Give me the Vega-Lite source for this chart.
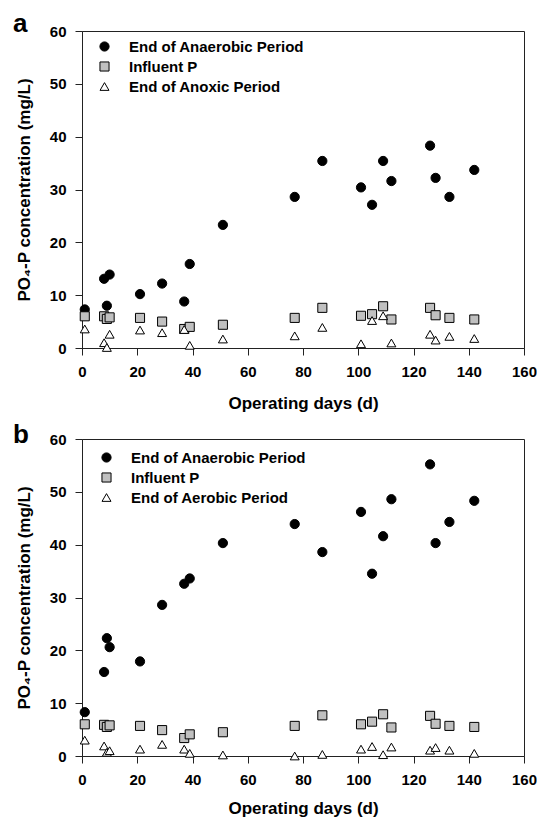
{
  "$schema": "https://vega.github.io/schema/vega-lite/v6.json",
  "padding": {"left": 12, "top": 10, "right": 5, "bottom": 0},
  "background": "white",
  "config": {
    "font": "Liberation Sans",
    "view": {"stroke": "#222", "strokeWidth": 1},
    "axis": {
      "grid": false,
      "domainColor": "#222",
      "tickColor": "#222",
      "tickSize": 7,
      "labelFont": "Liberation Sans",
      "labelFontSize": 15,
      "labelFontWeight": "bold",
      "labelColor": "black",
      "labelFlush": false,
      "titleFont": "Liberation Sans",
      "titleFontSize": 17,
      "titleFontWeight": "bold",
      "titleColor": "black"
    },
    "axisX": {"labelPadding": 9, "titlePadding": 16},
    "axisY": {"labelPadding": 9, "titlePadding": 16},
    "legend": {
      "orient": "none",
      "title": null,
      "labelFont": "Liberation Sans",
      "labelFontSize": 15,
      "labelFontWeight": "bold",
      "labelColor": "black",
      "labelLimit": 400,
      "labelOffset": 17,
      "rowPadding": 4,
      "padding": 0,
      "symbolStrokeColor": "black",
      "symbolStrokeWidth": 1
    },
    "title": {"font": "Liberation Sans", "fontSize": 26, "fontWeight": "bold", "color": "black", "anchor": "start", "frame": "group"}
  },
  "datasets": {
    "pts": [
      {"panel": "a", "series": "End of Anaerobic Period", "day": 1, "p": 7.3},
      {"panel": "a", "series": "End of Anaerobic Period", "day": 8, "p": 13.1},
      {"panel": "a", "series": "End of Anaerobic Period", "day": 9, "p": 8.0},
      {"panel": "a", "series": "End of Anaerobic Period", "day": 10, "p": 13.9},
      {"panel": "a", "series": "End of Anaerobic Period", "day": 21, "p": 10.2},
      {"panel": "a", "series": "End of Anaerobic Period", "day": 29, "p": 12.2},
      {"panel": "a", "series": "End of Anaerobic Period", "day": 37, "p": 8.8},
      {"panel": "a", "series": "End of Anaerobic Period", "day": 39, "p": 15.9},
      {"panel": "a", "series": "End of Anaerobic Period", "day": 51, "p": 23.3},
      {"panel": "a", "series": "End of Anaerobic Period", "day": 77, "p": 28.6},
      {"panel": "a", "series": "End of Anaerobic Period", "day": 87, "p": 35.4},
      {"panel": "a", "series": "End of Anaerobic Period", "day": 101, "p": 30.4},
      {"panel": "a", "series": "End of Anaerobic Period", "day": 105, "p": 27.1},
      {"panel": "a", "series": "End of Anaerobic Period", "day": 109, "p": 35.4},
      {"panel": "a", "series": "End of Anaerobic Period", "day": 112, "p": 31.6},
      {"panel": "a", "series": "End of Anaerobic Period", "day": 126, "p": 38.3},
      {"panel": "a", "series": "End of Anaerobic Period", "day": 128, "p": 32.2},
      {"panel": "a", "series": "End of Anaerobic Period", "day": 133, "p": 28.6},
      {"panel": "a", "series": "End of Anaerobic Period", "day": 142, "p": 33.7},
      {"panel": "a", "series": "Influent P", "day": 1, "p": 6.0},
      {"panel": "a", "series": "Influent P", "day": 8, "p": 6.0},
      {"panel": "a", "series": "Influent P", "day": 9, "p": 5.5},
      {"panel": "a", "series": "Influent P", "day": 10, "p": 5.8},
      {"panel": "a", "series": "Influent P", "day": 21, "p": 5.7},
      {"panel": "a", "series": "Influent P", "day": 29, "p": 5.0},
      {"panel": "a", "series": "Influent P", "day": 37, "p": 3.6},
      {"panel": "a", "series": "Influent P", "day": 39, "p": 4.0},
      {"panel": "a", "series": "Influent P", "day": 51, "p": 4.4},
      {"panel": "a", "series": "Influent P", "day": 77, "p": 5.7},
      {"panel": "a", "series": "Influent P", "day": 87, "p": 7.6},
      {"panel": "a", "series": "Influent P", "day": 101, "p": 6.1},
      {"panel": "a", "series": "Influent P", "day": 105, "p": 6.4},
      {"panel": "a", "series": "Influent P", "day": 109, "p": 7.9},
      {"panel": "a", "series": "Influent P", "day": 112, "p": 5.4},
      {"panel": "a", "series": "Influent P", "day": 126, "p": 7.6},
      {"panel": "a", "series": "Influent P", "day": 128, "p": 6.2},
      {"panel": "a", "series": "Influent P", "day": 133, "p": 5.7},
      {"panel": "a", "series": "Influent P", "day": 142, "p": 5.4},
      {"panel": "a", "series": "End of Anoxic Period", "day": 1, "p": 3.6},
      {"panel": "a", "series": "End of Anoxic Period", "day": 8, "p": 1.0},
      {"panel": "a", "series": "End of Anoxic Period", "day": 9, "p": 0.1},
      {"panel": "a", "series": "End of Anoxic Period", "day": 10, "p": 2.6},
      {"panel": "a", "series": "End of Anoxic Period", "day": 21, "p": 3.4},
      {"panel": "a", "series": "End of Anoxic Period", "day": 29, "p": 2.9},
      {"panel": "a", "series": "End of Anoxic Period", "day": 37, "p": 3.5},
      {"panel": "a", "series": "End of Anoxic Period", "day": 39, "p": 0.5},
      {"panel": "a", "series": "End of Anoxic Period", "day": 51, "p": 1.7},
      {"panel": "a", "series": "End of Anoxic Period", "day": 77, "p": 2.3},
      {"panel": "a", "series": "End of Anoxic Period", "day": 87, "p": 3.9},
      {"panel": "a", "series": "End of Anoxic Period", "day": 101, "p": 0.8},
      {"panel": "a", "series": "End of Anoxic Period", "day": 105, "p": 5.2},
      {"panel": "a", "series": "End of Anoxic Period", "day": 109, "p": 6.1},
      {"panel": "a", "series": "End of Anoxic Period", "day": 112, "p": 0.95},
      {"panel": "a", "series": "End of Anoxic Period", "day": 126, "p": 2.6},
      {"panel": "a", "series": "End of Anoxic Period", "day": 128, "p": 1.5},
      {"panel": "a", "series": "End of Anoxic Period", "day": 133, "p": 2.2},
      {"panel": "a", "series": "End of Anoxic Period", "day": 142, "p": 1.8},
      {"panel": "b", "series": "End of Anaerobic Period", "day": 1, "p": 8.3},
      {"panel": "b", "series": "End of Anaerobic Period", "day": 8, "p": 15.9},
      {"panel": "b", "series": "End of Anaerobic Period", "day": 9, "p": 22.3},
      {"panel": "b", "series": "End of Anaerobic Period", "day": 10, "p": 20.6},
      {"panel": "b", "series": "End of Anaerobic Period", "day": 21, "p": 17.9},
      {"panel": "b", "series": "End of Anaerobic Period", "day": 29, "p": 28.6},
      {"panel": "b", "series": "End of Anaerobic Period", "day": 37, "p": 32.6},
      {"panel": "b", "series": "End of Anaerobic Period", "day": 39, "p": 33.6},
      {"panel": "b", "series": "End of Anaerobic Period", "day": 51, "p": 40.3},
      {"panel": "b", "series": "End of Anaerobic Period", "day": 77, "p": 43.9},
      {"panel": "b", "series": "End of Anaerobic Period", "day": 87, "p": 38.6},
      {"panel": "b", "series": "End of Anaerobic Period", "day": 101, "p": 46.2},
      {"panel": "b", "series": "End of Anaerobic Period", "day": 105, "p": 34.5},
      {"panel": "b", "series": "End of Anaerobic Period", "day": 109, "p": 41.6},
      {"panel": "b", "series": "End of Anaerobic Period", "day": 112, "p": 48.6},
      {"panel": "b", "series": "End of Anaerobic Period", "day": 126, "p": 55.2},
      {"panel": "b", "series": "End of Anaerobic Period", "day": 128, "p": 40.3},
      {"panel": "b", "series": "End of Anaerobic Period", "day": 133, "p": 44.3},
      {"panel": "b", "series": "End of Anaerobic Period", "day": 142, "p": 48.3},
      {"panel": "b", "series": "Influent P", "day": 1, "p": 6.0},
      {"panel": "b", "series": "Influent P", "day": 8, "p": 5.9},
      {"panel": "b", "series": "Influent P", "day": 9, "p": 5.5},
      {"panel": "b", "series": "Influent P", "day": 10, "p": 5.8},
      {"panel": "b", "series": "Influent P", "day": 21, "p": 5.7},
      {"panel": "b", "series": "Influent P", "day": 29, "p": 4.9},
      {"panel": "b", "series": "Influent P", "day": 37, "p": 3.4},
      {"panel": "b", "series": "Influent P", "day": 39, "p": 4.1},
      {"panel": "b", "series": "Influent P", "day": 51, "p": 4.5},
      {"panel": "b", "series": "Influent P", "day": 77, "p": 5.7},
      {"panel": "b", "series": "Influent P", "day": 87, "p": 7.7},
      {"panel": "b", "series": "Influent P", "day": 101, "p": 6.0},
      {"panel": "b", "series": "Influent P", "day": 105, "p": 6.5},
      {"panel": "b", "series": "Influent P", "day": 109, "p": 7.9},
      {"panel": "b", "series": "Influent P", "day": 112, "p": 5.4},
      {"panel": "b", "series": "Influent P", "day": 126, "p": 7.6},
      {"panel": "b", "series": "Influent P", "day": 128, "p": 6.1},
      {"panel": "b", "series": "Influent P", "day": 133, "p": 5.7},
      {"panel": "b", "series": "Influent P", "day": 142, "p": 5.5},
      {"panel": "b", "series": "End of Aerobic Period", "day": 1, "p": 3.0},
      {"panel": "b", "series": "End of Aerobic Period", "day": 8, "p": 1.9},
      {"panel": "b", "series": "End of Aerobic Period", "day": 9, "p": 0.7},
      {"panel": "b", "series": "End of Aerobic Period", "day": 10, "p": 1.0},
      {"panel": "b", "series": "End of Aerobic Period", "day": 21, "p": 1.3},
      {"panel": "b", "series": "End of Aerobic Period", "day": 29, "p": 2.2},
      {"panel": "b", "series": "End of Aerobic Period", "day": 37, "p": 1.3},
      {"panel": "b", "series": "End of Aerobic Period", "day": 39, "p": 0.5},
      {"panel": "b", "series": "End of Aerobic Period", "day": 51, "p": 0.2},
      {"panel": "b", "series": "End of Aerobic Period", "day": 77, "p": 0.0},
      {"panel": "b", "series": "End of Aerobic Period", "day": 87, "p": 0.3},
      {"panel": "b", "series": "End of Aerobic Period", "day": 101, "p": 1.3},
      {"panel": "b", "series": "End of Aerobic Period", "day": 105, "p": 1.8},
      {"panel": "b", "series": "End of Aerobic Period", "day": 109, "p": 0.25},
      {"panel": "b", "series": "End of Aerobic Period", "day": 112, "p": 1.7},
      {"panel": "b", "series": "End of Aerobic Period", "day": 126, "p": 1.1},
      {"panel": "b", "series": "End of Aerobic Period", "day": 128, "p": 1.6},
      {"panel": "b", "series": "End of Aerobic Period", "day": 133, "p": 1.1},
      {"panel": "b", "series": "End of Aerobic Period", "day": 142, "p": 0.5}
    ]
  },
  "spacing": 9,
  "resolve": {
    "scale": {"shape": "independent", "fill": "independent", "stroke": "independent", "size": "independent"},
    "legend": {"shape": "independent", "fill": "independent", "stroke": "independent", "size": "independent"}
  },
  "vconcat": [
    {
      "width": 442,
      "height": 317,
      "title": {"text": "a", "dx": -69, "offset": -13},
      "data": {"name": "pts"},
      "transform": [{"filter": "datum.panel === 'a'"}],
      "mark": {"type": "point", "filled": true, "strokeWidth": 1, "opacity": 1},
      "encoding": {
        "x": {"field": "day", "type": "quantitative", "scale": {"domain": [0, 160], "nice": false}, "axis": {"values": [0, 20, 40, 60, 80, 100, 120, 140, 160], "title": "Operating days (d)"}},
        "y": {"field": "p", "type": "quantitative", "scale": {"domain": [0, 60], "nice": false}, "axis": {"values": [0, 10, 20, 30, 40, 50, 60], "title": "PO₄-P concentration (mg/L)"}},
        "shape": {"field": "series", "type": "nominal", "scale": {"domain": ["End of Anaerobic Period", "Influent P", "End of Anoxic Period"], "range": ["circle", "square", "triangle-up"]}, "legend": {"legendX": 15, "legendY": 8}},
        "fill": {"field": "series", "type": "nominal", "scale": {"domain": ["End of Anaerobic Period", "Influent P", "End of Anoxic Period"], "range": ["black", "#c0c0c0", "white"]}, "legend": {"legendX": 15, "legendY": 8}},
        "stroke": {"field": "series", "type": "nominal", "scale": {"domain": ["End of Anaerobic Period", "Influent P", "End of Anoxic Period"], "range": ["black", "black", "black"]}, "legend": {"legendX": 15, "legendY": 8}},
        "size": {"field": "series", "type": "nominal", "scale": {"domain": ["End of Anaerobic Period", "Influent P", "End of Anoxic Period"], "range": [85, 80, 120]}, "legend": {"legendX": 15, "legendY": 8}}
      }
    },
    {
      "width": 442,
      "height": 317,
      "title": {"text": "b", "dx": -69, "offset": -16},
      "data": {"name": "pts"},
      "transform": [{"filter": "datum.panel === 'b'"}],
      "mark": {"type": "point", "filled": true, "strokeWidth": 1, "opacity": 1},
      "encoding": {
        "x": {"field": "day", "type": "quantitative", "scale": {"domain": [0, 160], "nice": false}, "axis": {"values": [0, 20, 40, 60, 80, 100, 120, 140, 160], "title": "Operating days (d)", "titlePadding": 13}},
        "y": {"field": "p", "type": "quantitative", "scale": {"domain": [0, 60], "nice": false}, "axis": {"values": [0, 10, 20, 30, 40, 50, 60], "title": "PO₄-P concentration (mg/L)"}},
        "shape": {"field": "series", "type": "nominal", "scale": {"domain": ["End of Anaerobic Period", "Influent P", "End of Aerobic Period"], "range": ["circle", "square", "triangle-up"]}, "legend": {"legendX": 17, "legendY": 11}},
        "fill": {"field": "series", "type": "nominal", "scale": {"domain": ["End of Anaerobic Period", "Influent P", "End of Aerobic Period"], "range": ["black", "#c0c0c0", "white"]}, "legend": {"legendX": 17, "legendY": 11}},
        "stroke": {"field": "series", "type": "nominal", "scale": {"domain": ["End of Anaerobic Period", "Influent P", "End of Aerobic Period"], "range": ["black", "black", "black"]}, "legend": {"legendX": 17, "legendY": 11}},
        "size": {"field": "series", "type": "nominal", "scale": {"domain": ["End of Anaerobic Period", "Influent P", "End of Aerobic Period"], "range": [85, 80, 120]}, "legend": {"legendX": 17, "legendY": 11}}
      }
    }
  ]
}
